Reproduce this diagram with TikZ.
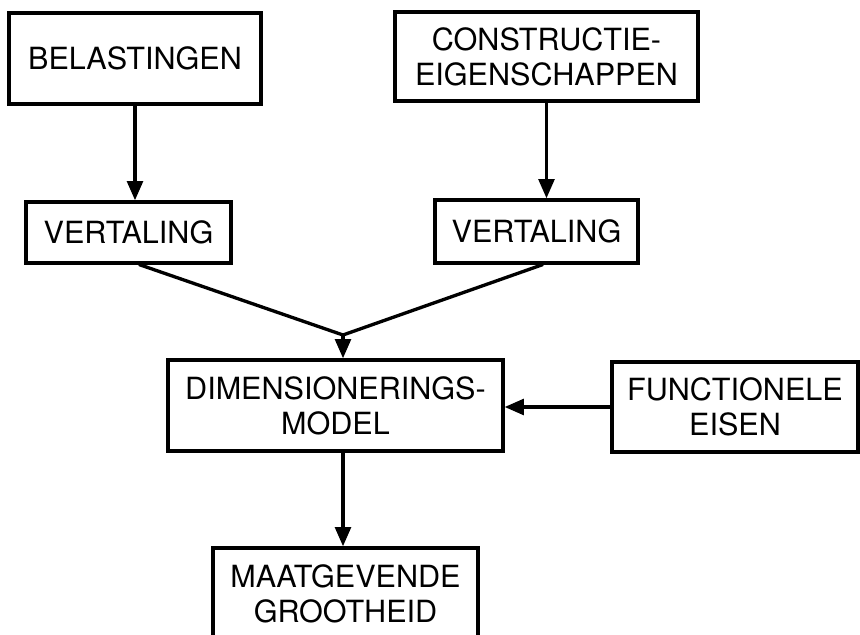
\documentclass[tikz,border=0pt]{standalone}
\usepackage{fontspec}
\setmainfont{TeX Gyre Heros}
\usetikzlibrary{arrows.meta,calc}

\begin{document}
\begin{tikzpicture}
		[x=0.02cm,y=-0.02cm,line cap=round,
		%Styles
		block/.style={draw,line width=1.9pt,inner sep=0pt,align=center,font=\fontsize{17.4}{20}\selectfont},
		flow/.style={line width=1.9pt,-{Triangle[length=11pt,width=9pt]}},
		join line/.style={line width=1.9pt}
		]
		
		\useasboundingbox (0,0) rectangle (860,635);
		
		%The boxes
		\node[block,minimum width=5.04cm,minimum height=1.82cm] (bel) at (135,58.5) {BELASTINGEN};
		\node[block,minimum width=6.06cm,minimum height=1.78cm] (con) at (546.5,56.5) {CONSTRUCTIE-\\EIGENSCHAPPEN};
		\node[block,minimum width=4.1cm,minimum height=1.22cm] (vl) at (128.5,232.5) {VERTALING};
		\node[block,minimum width=4.06cm,minimum height=1.26cm] (vr) at (536.5,231.5) {VERTALING};
		\node[block,minimum width=6.7cm,minimum height=1.82cm] (dim) at (335.5,405.5) {DIMENSIONERINGS-\\MODEL};
		\node[block,minimum width=4.92cm,minimum height=1.8cm] (func) at (735,407) {FUNCTIONELE\\EISEN};
		\node[block,minimum width=5.3cm,minimum height=1.84cm] (maat) at (345.5,594) {MAATGEVENDE\\GROOTHEID};
		
		%The arrows
		\coordinate (merge) at (343,335);
		\draw[flow] (bel.south) -- (bel.south |- vl.north);
		\draw[flow] (con.south) -- (con.south |- vr.north);
		\draw[join line] ($(vl.south)+(11,0)$) -- (merge) -- ($(vr.south)+(6,0)$);
		\draw[flow] (merge) -- (merge |- dim.north);
		\draw[flow] (func.west) -- (func.west -| dim.east);
		\draw[flow] (merge |- dim.south) -- (merge |- maat.north);
\end{tikzpicture}
\end{document}
